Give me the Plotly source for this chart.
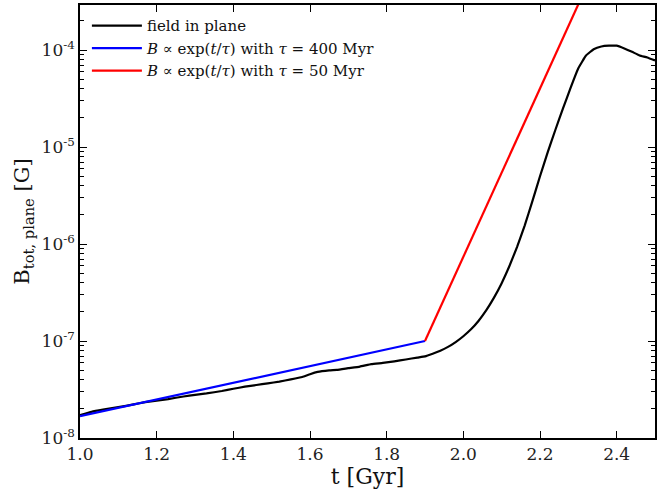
import plotly.graph_objects as go

# Total magnetic field in the disc plane vs time
t_gyr = [1.00, 1.03, 1.06, 1.10, 1.14, 1.17, 1.20, 1.23, 1.27, 1.30, 1.33, 1.37,
         1.40, 1.43, 1.46, 1.49, 1.52, 1.55, 1.58, 1.60, 1.62, 1.65, 1.67, 1.70,
         1.73, 1.76, 1.79, 1.82, 1.85, 1.88, 1.90, 1.92, 1.94, 1.96, 1.98, 2.00,
         2.02, 2.04, 2.06, 2.08, 2.10, 2.12, 2.14, 2.16, 2.18, 2.20, 2.22, 2.24,
         2.26, 2.28, 2.30, 2.32, 2.34, 2.36, 2.38, 2.40, 2.42, 2.44, 2.46, 2.48,
         2.50]
b_plane = [1.72e-8, 1.86e-8, 1.96e-8, 2.08e-8, 2.22e-8, 2.34e-8, 2.43e-8, 2.52e-8,
           2.68e-8, 2.78e-8, 2.88e-8, 3.05e-8, 3.22e-8, 3.38e-8, 3.52e-8, 3.66e-8,
           3.82e-8, 4.02e-8, 4.26e-8, 4.55e-8, 4.80e-8, 4.98e-8, 5.05e-8, 5.25e-8,
           5.45e-8, 5.78e-8, 5.95e-8, 6.18e-8, 6.45e-8, 6.75e-8, 6.95e-8, 7.40e-8,
           7.95e-8, 8.70e-8, 9.75e-8, 1.12e-7, 1.32e-7, 1.62e-7, 2.08e-7, 2.80e-7,
           3.95e-7, 5.90e-7, 9.30e-7, 1.55e-6, 2.75e-6, 5.00e-6, 8.80e-6, 1.50e-5,
           2.50e-5, 4.10e-5, 6.50e-5, 8.80e-5, 1.02e-4, 1.09e-4, 1.11e-4, 1.11e-4,
           1.04e-4, 9.60e-5, 8.80e-5, 8.40e-5, 7.80e-5]

# Exponential growth fits (straight lines on a log axis)
t_slow = [1.0, 1.9]
b_slow = [1.68e-8, 1.0e-7]
t_fast = [1.9, 2.34]
b_fast = [1.0e-7, 6.6e-4]

y_tickvals = [1e-8, 1e-7, 1e-6, 1e-5, 1e-4]
y_ticktext = ["10<sup>-8</sup>", "10<sup>-7</sup>", "10<sup>-6</sup>",
              "10<sup>-5</sup>", "10<sup>-4</sup>"]
y_minor = [m * 10.0 ** e for e in range(-8, -3) for m in range(2, 10)]
x_tickvals = [1.0, 1.2, 1.4, 1.6, 1.8, 2.0, 2.2, 2.4]

FONT = "DejaVu Serif"

fig = go.Figure()
fig.add_trace(go.Scatter(x=t_gyr, y=b_plane, mode="lines", name="field in plane",
                         line=dict(color="black", width=2.2, shape="spline",
                                   smoothing=0.3)))
fig.add_trace(go.Scatter(x=t_slow, y=b_slow, mode="lines",
                         name="<i>B</i> ∝ exp(<i>t</i>/<i>τ</i>) with <i>τ</i> = 400 Myr",
                         line=dict(color="#0000ff", width=2.2)))
fig.add_trace(go.Scatter(x=t_fast, y=b_fast, mode="lines",
                         name="<i>B</i> ∝ exp(<i>t</i>/<i>τ</i>) with <i>τ</i> = 50 Myr",
                         line=dict(color="#ff0000", width=2.2)))

axis_common = dict(showline=True, linecolor="black", linewidth=1.5, mirror="allticks",
                   ticks="inside", tickcolor="black", showgrid=False, zeroline=False,
                   tickfont=dict(family=FONT, size=17, color="#222"))

fig.update_xaxes(range=[1.0, 2.5], tickvals=x_tickvals,
                 ticktext=[f"{v:.1f}" for v in x_tickvals], ticklen=7, tickwidth=1.3,
                 title=dict(text="t [Gyr]", font=dict(family=FONT, size=22, color="#111"),
                            standoff=0),
                 **axis_common)
fig.update_yaxes(type="log", range=[-8, -3.535], tickvals=y_tickvals, ticktext=y_ticktext,
                 ticklen=7, tickwidth=1.3,
                 minor=dict(tickvals=y_minor, ticks="inside", ticklen=4,
                            tickcolor="black", tickwidth=1, showgrid=False),
                 title=dict(text="B<sub>tot, plane</sub> [G]",
                            font=dict(family=FONT, size=21, color="#111"), standoff=6),
                 **axis_common)

fig.update_layout(
    width=658, height=491,
    margin=dict(l=80, r=1, t=5, b=53),
    plot_bgcolor="white", paper_bgcolor="white",
    font=dict(family=FONT, color="#111"),
    legend=dict(x=0.012, y=0.99, xanchor="left", yanchor="top",
                bgcolor="rgba(255,255,255,0)", borderwidth=0,
                font=dict(family=FONT, size=15, color="#111"),
                itemwidth=50, tracegroupgap=2),
)

fig.write_html("out.html")
